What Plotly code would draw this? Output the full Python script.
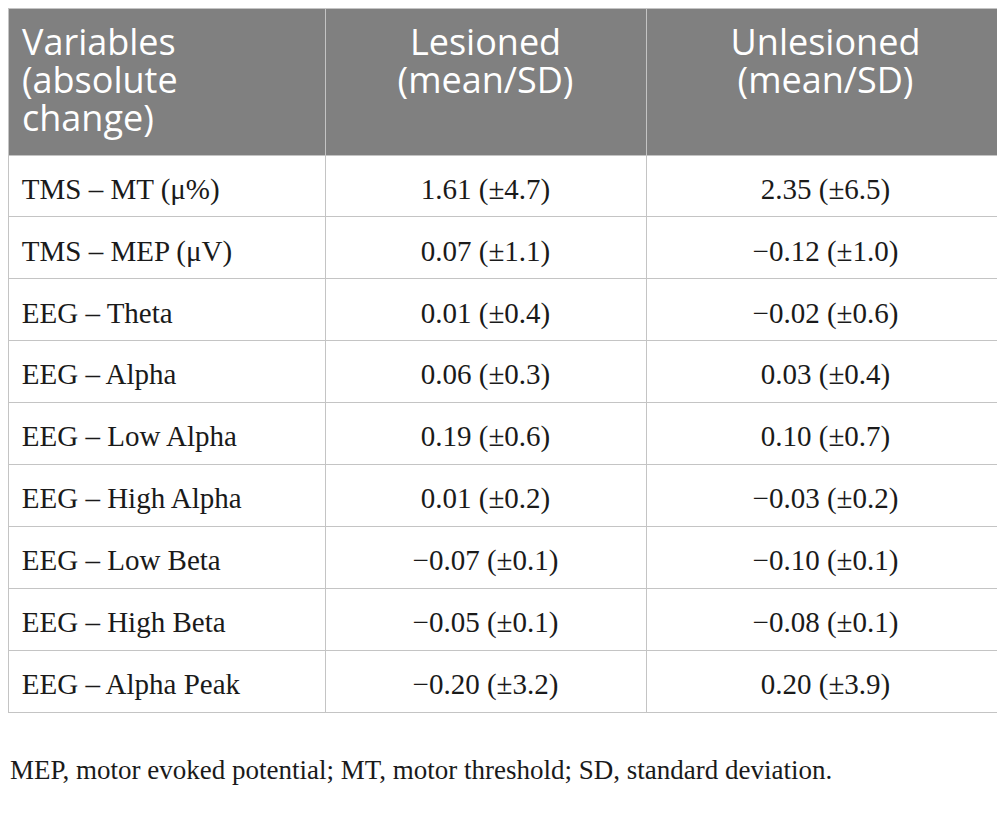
import plotly.graph_objects as go

header = [["Variables", "(absolute", "change)"],
          ["Lesioned", "(mean/SD)", ""],
          ["Unlesioned", "(mean/SD)", ""]]

variables = ["TMS – MT (μ%)", "TMS – MEP (μV)", "EEG – Theta", "EEG – Alpha",
             "EEG – Low Alpha", "EEG – High Alpha", "EEG – Low Beta",
             "EEG – High Beta", "EEG – Alpha Peak"]
lesioned = ["1.61 (±4.7)", "0.07 (±1.1)", "0.01 (±0.4)", "0.06 (±0.3)",
            "0.19 (±0.6)", "0.01 (±0.2)", "−0.07 (±0.1)", "−0.05 (±0.1)",
            "−0.20 (±3.2)"]
unlesioned = ["2.35 (±6.5)", "−0.12 (±1.0)", "−0.02 (±0.6)", "0.03 (±0.4)",
              "0.10 (±0.7)", "−0.03 (±0.2)", "−0.10 (±0.1)", "−0.08 (±0.1)",
              "0.20 (±3.9)"]

footnote = "MEP, motor evoked potential; MT, motor threshold; SD, standard deviation."

W, H = 997, 807          # page adds 8px body margin
col_w = [317, 321, 359]
head_h = 147
row_h = 61.9
grid_col = "#c4c4c4"
clear = "rgba(0,0,0,0)"
pad = "\u2009"

blank = [[""] * len(variables) for _ in col_w]

# grid: fills and rules only
grid = go.Table(
    domain=dict(x=[0, 1], y=[0, 1]),
    columnwidth=col_w,
    header=dict(values=["", "", ""], fill_color="#808080", line_color=grid_col,
                height=head_h),
    cells=dict(values=blank, fill_color="white", line_color=grid_col, height=row_h),
)

# header text, one line per header row so the line spacing can be set
head_text = go.Table(
    domain=dict(x=[0, 1], y=[0, 1 - 12 / H]),
    columnwidth=col_w,
    header=dict(values=[[pad + s if s else s for s in header[0]], header[1], header[2]],
                fill_color=clear, line_color=clear,
                align=["left", "center", "center"],
                font=dict(family="Open Sans", size=36, color="white"),
                height=38),
    cells=dict(values=[[""], [""], [""]], fill_color=clear, line_color=clear, height=10),
)

# body text, nudged down to sit in the middle of each row
body_text = go.Table(
    domain=dict(x=[0, 1], y=[0, 1 - 14 / H]),
    columnwidth=col_w,
    header=dict(values=["", "", ""], fill_color=clear, line_color=clear, height=head_h),
    cells=dict(values=[[pad + v for v in variables], lesioned, unlesioned],
               fill_color=clear, line_color=clear,
               align=["left", "center", "center"],
               font=dict(family="Liberation Serif", size=29, color="#1a1a1a"),
               height=row_h),
)

fig = go.Figure([grid, head_text, body_text])

fig.add_annotation(text=footnote, x=0, y=1 - 762 / H, xref="paper", yref="paper",
                   showarrow=False, xanchor="left", yanchor="middle",
                   font=dict(family="Liberation Serif", size=27, color="#1a1a1a"))

fig.update_layout(width=W, height=H, margin=dict(l=0, r=0, t=0, b=0),
                  paper_bgcolor="white")
fig.write_html("out.html")
